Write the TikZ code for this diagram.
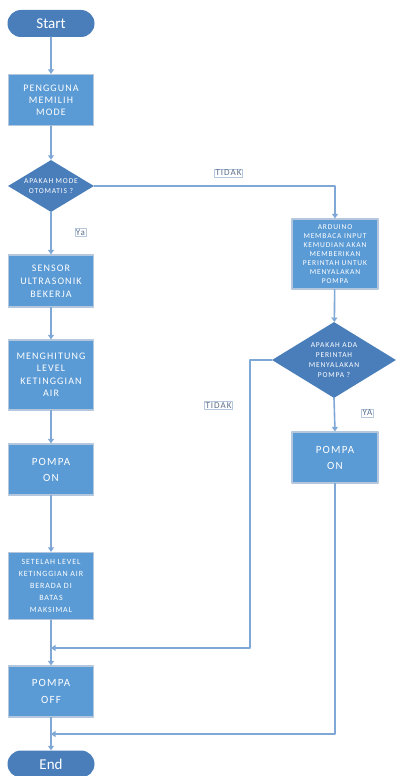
\documentclass[tikz,border=0pt]{standalone}
\usepackage{fontspec}
\setmainfont{Carlito}
\newfontfamily\boxfont{Carlito}[LetterSpace=11]
\usetikzlibrary{arrows.meta,shapes.geometric}
\definecolor{boxblue}{HTML}{5B9BD5}
\definecolor{darkblue}{HTML}{4A7EBB}
\definecolor{edgegray}{HTML}{B4C7DC}
\definecolor{lineblue}{HTML}{7FA8D6}
\definecolor{tagtext}{HTML}{5A6E8C}
\begin{document}
\begin{tikzpicture}[x=1pt,y=-1pt,line cap=round,line join=round,
  >={Triangle[width=6pt,length=4.5pt]},
  every node/.style={inner sep=1pt,align=center,text=white},
  procbox/.style={rectangle,fill=boxblue,draw=edgegray,line width=1.2pt,minimum width=85pt},
  termbox/.style={rectangle,rounded corners=13.5pt,fill=darkblue,minimum width=87pt,minimum height=27pt,font=\fontsize{15}{15}\selectfont},
  decbox/.style={diamond,fill=darkblue,inner sep=0pt,aspect=1.65},
  flow/.style={->,draw=lineblue,line width=1.6pt},
  tag/.style={draw=edgegray,line width=0.4pt,fill=white,text=tagtext,inner sep=1pt,font=\boxfont\fontsize{9}{9}\selectfont}]
  \useasboundingbox (0,0) rectangle (396,776);
  % left column
  \node[termbox] (start) at (51,23.5) {Start};
  \node[procbox,minimum height=51pt,font=\boxfont\fontsize{10}{12}\selectfont] (mode) at (51,100) {PENGGUNA\\MEMILIH\\MODE};
  \node[decbox,minimum width=86pt,minimum height=52pt,font=\boxfont\fontsize{7.5}{9.5}\selectfont] (auto) at (51,186) {APAKAH MODE\\OTOMATIS ?};
  \node[procbox,minimum height=52pt,font=\boxfont\fontsize{10}{13}\selectfont] (sensor) at (51,281) {SENSOR\\ULTRASONIK\\BEKERJA};
  \node[procbox,minimum height=70pt,font=\boxfont\fontsize{10}{12.5}\selectfont] (level) at (51,375) {MENGHITUNG\\LEVEL\\KETINGGIAN\\AIR};
  \node[procbox,minimum height=51pt,font=\boxfont\fontsize{11}{16}\selectfont] (onA) at (51,469.5) {POMPA\\ON};
  \node[procbox,minimum height=67pt,font=\boxfont\fontsize{8}{12}\selectfont] (maks) at (51,586) {SETELAH LEVEL\\KETINGGIAN AIR\\BERADA DI\\BATAS\\MAKSIMAL};
  \node[procbox,minimum height=51pt,font=\boxfont\fontsize{11}{17}\selectfont] (off) at (51,691.5) {POMPA\\OFF};
  \node[termbox] (end) at (51,764) {End};
  % right column
  \node[procbox,minimum height=70pt,minimum width=86pt,font=\boxfont\fontsize{7.5}{9}\selectfont] (arduino) at (335,254) {ARDUINO\\MEMBACA INPUT\\KEMUDIAN AKAN\\MEMBERIKAN\\PERINTAH UNTUK\\MENYALAKAN\\POMPA};
  \node[decbox,minimum width=124pt,minimum height=76pt,font=\boxfont\fontsize{7.5}{10}\selectfont] (ask) at (334,360) {APAKAH ADA\\PERINTAH\\MENYALAKAN\\POMPA ?};
  \node[procbox,minimum height=51pt,minimum width=86pt,font=\boxfont\fontsize{11}{16}\selectfont] (onB) at (335,457.5) {POMPA\\ON};
  \coordinate (cornerA) at (335,186);
  \coordinate (cornerB) at (250,360);
  \coordinate (cornerC) at (250,648);
  \coordinate (cornerD) at (335,734);
  \coordinate (joinA) at (51,648);
  \coordinate (joinB) at (51,734);
  % connectors
  \draw[flow] (start) -- (mode);
  \draw[flow] (mode) -- (auto);
  \draw[flow] (auto) -- (sensor);
  \draw[flow] (sensor) -- (level);
  \draw[flow] (level) -- (onA);
  \draw[flow] (onA) -- (maks);
  \draw[flow] (maks) -- (off);
  \draw[flow] (off) -- (end);
  \draw[flow] (auto.east) -- (cornerA) -- (arduino.north);
  \draw[flow] (arduino) -- (ask);
  \draw[flow] (ask.south) -- (onB.north);
  \draw[flow] (ask.west) -- (cornerB) -- (cornerC) -- (joinA);
  \draw[flow] (onB.south) -- (cornerD) -- (joinB);
  % labels
  \node[tag] (tidakA) at (228.5,173) {TIDAK};
  \node[tag] (yaA) at (80.5,232.5) {Ya};
  \node[tag] (tidakB) at (218.5,405.5) {TIDAK};
  \node[tag] (yaB) at (367.5,413) {YA};
\end{tikzpicture}
\end{document}
